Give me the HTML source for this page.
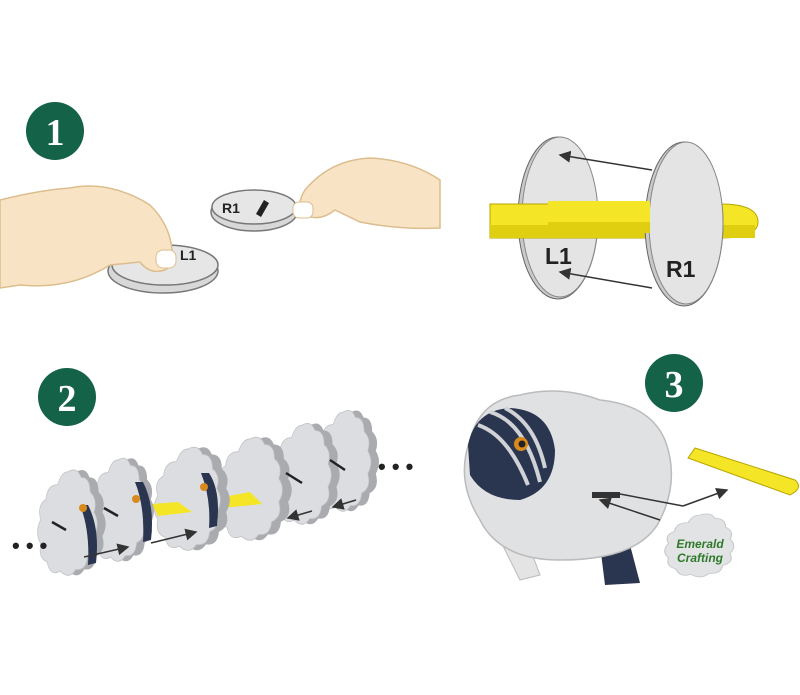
<!DOCTYPE html>
<html><head><meta charset="utf-8"><style>
html,body{margin:0;padding:0;background:#fff;}
svg{display:block;font-family:"Liberation Sans",sans-serif;}
</style></head><body>
<svg width="800" height="695" viewBox="0 0 800 695" xmlns="http://www.w3.org/2000/svg">
<defs>
<marker id="ah" markerWidth="8" markerHeight="8" refX="7" refY="4" orient="auto"><path d="M0,0 L8,4 L0,8z" fill="#333"/></marker>
<g id="cloud">
<path d="M0,-60 q14,-6 20,6 q14,0 14,16 q12,8 6,22 q10,12 0,26 q6,16 -10,22 q-2,16 -18,14 q-10,12 -24,2 q-16,6 -20,-10 q-14,-4 -10,-20 q-10,-12 0,-26 q-6,-16 8,-22 q2,-16 18,-16 q6,-14 16,-14z" fill="#e2e3e5" stroke="#c8c9cc" stroke-width="1.5"/>
</g>
<g id="disc">
<path d="M4,-60 q14,-6 20,6 q14,0 14,16 q12,8 6,22 q10,12 0,26 q6,16 -10,22 q-2,16 -18,14 q-10,12 -24,2 q-16,6 -20,-10 q-14,-4 -10,-20 q-10,-12 0,-26 q-6,-16 8,-22 q2,-16 18,-16 q6,-14 16,-14z" transform="translate(9,0)" fill="#a9abae"/>
<path d="M0,-60 q14,-6 20,6 q14,0 14,16 q12,8 6,22 q10,12 0,26 q6,16 -10,22 q-2,16 -18,14 q-10,12 -24,2 q-16,6 -20,-10 q-14,-4 -10,-20 q-10,-12 0,-26 q-6,-16 8,-22 q2,-16 18,-16 q6,-14 16,-14z" fill="#dcdde0" stroke="#c2c3c6" stroke-width="1"/>
</g>
</defs>
<!-- badges -->
<circle cx="55" cy="131" r="29" fill="#146247"/>
<text x="55" y="145" font-size="38" font-weight="bold" fill="#fff" text-anchor="middle" font-family="Liberation Serif,serif">1</text>
<circle cx="67" cy="397" r="29" fill="#146247"/>
<text x="67" y="411" font-size="38" font-weight="bold" fill="#fff" text-anchor="middle" font-family="Liberation Serif,serif">2</text>
<circle cx="674" cy="383" r="29" fill="#146247"/>
<text x="674" y="397" font-size="38" font-weight="bold" fill="#fff" text-anchor="middle" font-family="Liberation Serif,serif">3</text>

<!-- step1 discs -->
<ellipse cx="163" cy="271" rx="55" ry="22" fill="#d8d8d8" stroke="#777" stroke-width="1.5"/>
<ellipse cx="165" cy="265" rx="53" ry="20" fill="#e6e6e6" stroke="#777" stroke-width="1.5"/>
<text x="180" y="260" font-size="14" font-weight="bold" fill="#222">L1</text>
<ellipse cx="254" cy="212" rx="43" ry="19" fill="#d8d8d8" stroke="#777" stroke-width="1.5"/>
<ellipse cx="254" cy="207" rx="42" ry="17" fill="#e6e6e6" stroke="#777" stroke-width="1.5"/>
<text x="222" y="213" font-size="14" font-weight="bold" fill="#222">R1</text>
<path d="M256,214 l8,-14 l5,3 l-8,14z" fill="#222"/>
<!-- hands -->
<path d="M0,200 Q40,190 70,188 Q110,180 150,205 Q170,225 172,250 Q178,262 165,270 Q150,275 140,262 L110,265 Q70,290 20,285 L0,288z" fill="#f8e4c4" stroke="#dcbd8e" stroke-width="1.5"/>
<rect x="156" y="250" width="20" height="18" rx="7" fill="#fff" stroke="#dcbd8e"/>
<path d="M440,180 Q410,160 370,158 Q330,160 305,190 Q295,205 305,215 Q320,222 335,210 L360,222 Q400,230 440,228z" fill="#f8e4c4" stroke="#dcbd8e" stroke-width="1.5"/>
<rect x="293" y="202" width="20" height="16" rx="6" fill="#fff" stroke="#dcbd8e"/>

<!-- step1 right assembly -->
<ellipse cx="558" cy="218" rx="40" ry="81" fill="#c9c9c9" stroke="#666" stroke-width="1"/>
<ellipse cx="560" cy="217" rx="38" ry="80" fill="#e4e4e4" stroke="#888" stroke-width="1"/>
<path d="M490,204 L720,204 Q758,204 758,222 Q758,238 720,238 L490,238z" fill="#f4e526" stroke="#b8a500"/>
<rect x="490" y="225" width="265" height="13" fill="#e0cf10"/>
<ellipse cx="684" cy="224" rx="39" ry="82" fill="#c9c9c9" stroke="#666" stroke-width="1"/>
<ellipse cx="686" cy="223" rx="37" ry="81" fill="#e4e4e4" stroke="#888" stroke-width="1"/>
<rect x="548" y="201" width="102" height="22" fill="#f4e526"/>
<rect x="548" y="222" width="102" height="11" fill="#e0cf10"/>
<text x="545" y="264" font-size="23" font-weight="bold" fill="#222">L1</text>
<text x="666" y="277" font-size="23" font-weight="bold" fill="#222">R1</text>
<line x1="652" y1="170" x2="560" y2="155" stroke="#333" stroke-width="1.5" marker-end="url(#ah)"/>
<line x1="652" y1="288" x2="560" y2="272" stroke="#333" stroke-width="1.5" marker-end="url(#ah)"/>

<!-- step2 discs -->
<g transform="translate(343,465) scale(0.62,0.88)"><use href="#disc"/></g>
<g transform="translate(302,478) scale(0.65,0.88)"><use href="#disc"/></g>
<g transform="translate(250,493) scale(0.72,0.9)"><use href="#disc"/></g>
<path d="M218,498 L250,492 L262,504 L222,508z" fill="#f4e526"/>
<g transform="translate(188,503) scale(0.72,0.9)"><use href="#disc"/></g>
<path d="M152,504 L178,502 L192,512 L158,516z" fill="#f4e526"/>
<g transform="translate(118,514) scale(0.62,0.9)"><use href="#disc"/></g>
<g transform="translate(68,527) scale(0.65,0.92)"><use href="#disc"/></g>
<path d="M80,505 q10,25 8,60 l8,-2 q4,-35 -8,-58z" fill="#2a3550"/>
<path d="M135,482 q10,25 8,60 l8,-2 q4,-35 -8,-58z" fill="#2a3550"/>
<path d="M201,473 q10,25 8,55 l8,-2 q4,-35 -8,-53z" fill="#2a3550"/>
<circle cx="83" cy="508" r="4" fill="#d98a1c"/><circle cx="136" cy="499" r="4" fill="#d98a1c"/><circle cx="204" cy="487" r="4" fill="#d98a1c"/>
<line x1="52" y1="522" x2="66" y2="530" stroke="#222" stroke-width="2.5"/>
<line x1="104" y1="508" x2="118" y2="516" stroke="#222" stroke-width="2.5"/>
<line x1="286" y1="473" x2="302" y2="483" stroke="#222" stroke-width="2.5"/>
<line x1="330" y1="460" x2="345" y2="470" stroke="#222" stroke-width="2.5"/>
<line x1="84" y1="557" x2="128" y2="547" stroke="#333" stroke-width="1.5" marker-end="url(#ah)"/>
<line x1="151" y1="543" x2="196" y2="532" stroke="#333" stroke-width="1.5" marker-end="url(#ah)"/>
<line x1="312" y1="511" x2="288" y2="518" stroke="#333" stroke-width="1.5" marker-end="url(#ah)"/>
<line x1="356" y1="500" x2="333" y2="507" stroke="#333" stroke-width="1.5" marker-end="url(#ah)"/>
<text x="12" y="553" font-size="22" font-weight="bold" fill="#222">• • •</text>
<text x="378" y="474" font-size="22" font-weight="bold" fill="#222">• • •</text>

<!-- sheep -->
<path d="M500,540 L520,580 L540,575 L525,535z" fill="#e4e4e4" stroke="#bbb"/>
<path d="M600,545 L605,585 L640,583 L630,545z" fill="#2a3550"/>
<path d="M470,440 Q480,400 520,395 Q560,385 600,400 Q650,405 665,440 Q680,480 660,520 Q640,560 560,560 Q500,560 480,520 Q455,480 470,440z" fill="#e0e1e3" stroke="#bbb" stroke-width="1.5"/>
<path d="M468,445 Q475,410 510,408 Q550,410 555,450 Q555,490 520,500 Q485,500 470,475z" fill="#2a3550"/>
<path d="M478,425 q30,10 50,60 M490,412 q35,10 50,70 M505,408 q30,15 40,60" stroke="#d0d2d6" stroke-width="4" fill="none"/>
<circle cx="521" cy="444" r="7" fill="#d98a1c"/><circle cx="522" cy="444" r="3.5" fill="#222"/>
<rect x="592" y="492" width="28" height="6" fill="#333"/>
<line x1="660" y1="520" x2="600" y2="500" stroke="#333" stroke-width="1.5" marker-end="url(#ah)"/>
<line x1="620" y1="494" x2="683" y2="506" stroke="#333" stroke-width="1.5"/>
<line x1="683" y1="506" x2="727" y2="490" stroke="#333" stroke-width="1.5" marker-end="url(#ah)"/>
<path d="M688,458 L695,448 L795,480 Q802,486 795,492 L790,495 Z" fill="#f4e526" stroke="#b8a500"/>
<g transform="translate(700,548) scale(0.75,0.55)"><use href="#cloud"/></g>
<text x="700" y="548" font-size="12" font-weight="bold" fill="#2f7a2a" text-anchor="middle" font-style="italic">Emerald</text>
<text x="700" y="562" font-size="12" font-weight="bold" fill="#2f7a2a" text-anchor="middle" font-style="italic">Crafting</text>
</svg>
</body></html>
